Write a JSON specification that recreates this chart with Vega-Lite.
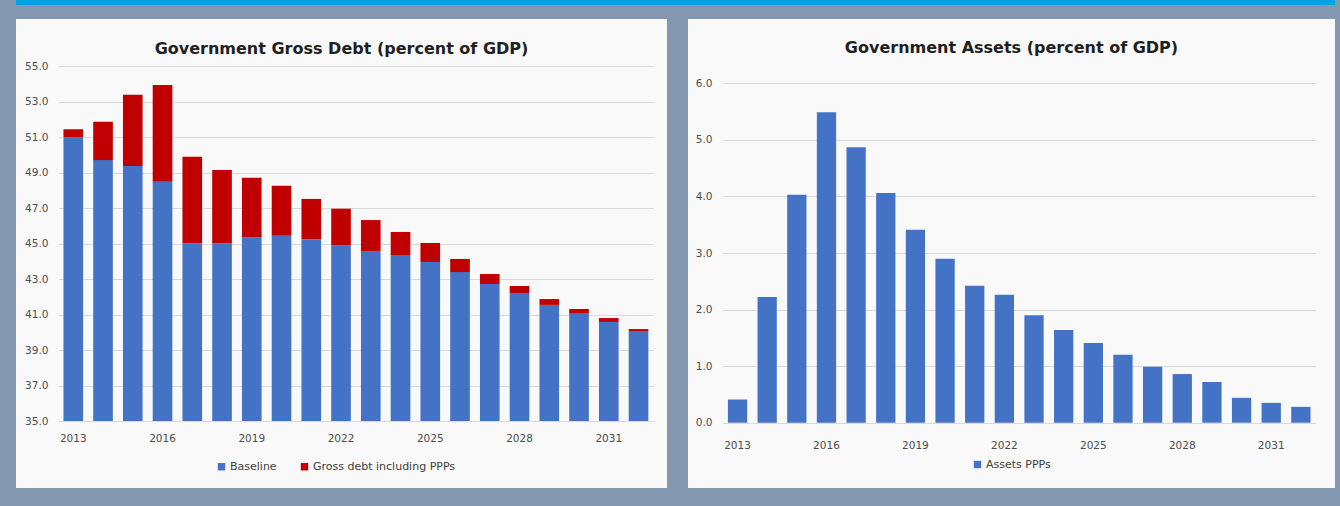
{
  "$schema": "https://vega.github.io/schema/vega-lite/v6.json",
  "background": "#8497b0",
  "padding": {"left": 16, "top": 0, "right": 5, "bottom": 18},
  "spacing": 14,
  "config": {
    "font": "DejaVu Sans",
    "view": {"stroke": null},
    "axis": {"labelFont": "DejaVu Sans", "labelFontSize": 10.5, "labelColor": "#4d4d4d", "domain": false, "ticks": false, "gridColor": "#d9d9d9", "gridWidth": 1},
    "legend": {"labelFont": "DejaVu Sans", "labelFontSize": 11, "labelColor": "#404040", "symbolType": "square", "symbolSize": 55, "symbolStrokeWidth": 0, "labelOffset": 3, "columnPadding": 22},
    "title": {"font": "DejaVu Sans", "fontSize": 16, "fontWeight": "bold", "color": "#1f1f1f"}
  },
  "vconcat": [
    {
      "width": 1319,
      "height": 5,
      "data": {"values": []},
      "mark": "point",
      "encoding": {},
      "view": {"fill": "#00a3e2", "stroke": null}
    },
    {
      "spacing": 21,
      "resolve": {"scale": {"x": "independent", "y": "independent", "color": "independent"}, "legend": {"color": "independent"}},
      "hconcat": [
        {
          "width": 651,
          "height": 469,
          "view": {"fill": "#f9f9f9", "stroke": null},
          "title": {"text": "Government Gross Debt (percent of GDP)", "offset": -51, "baseline": "alphabetic", "frame": "group", "anchor": "middle"},
          "data": {"values": [
            {"year": 2013, "baseline": 50.98, "total": 51.43},
            {"year": 2014, "baseline": 49.70, "total": 51.86},
            {"year": 2015, "baseline": 49.37, "total": 53.38},
            {"year": 2016, "baseline": 48.48, "total": 53.93},
            {"year": 2017, "baseline": 45.01, "total": 49.89},
            {"year": 2018, "baseline": 45.01, "total": 49.14},
            {"year": 2019, "baseline": 45.35, "total": 48.71},
            {"year": 2020, "baseline": 45.44, "total": 48.26},
            {"year": 2021, "baseline": 45.23, "total": 47.51},
            {"year": 2022, "baseline": 44.90, "total": 46.96},
            {"year": 2023, "baseline": 44.58, "total": 46.32},
            {"year": 2024, "baseline": 44.35, "total": 45.65},
            {"year": 2025, "baseline": 43.96, "total": 45.03},
            {"year": 2026, "baseline": 43.39, "total": 44.13},
            {"year": 2027, "baseline": 42.72, "total": 43.28},
            {"year": 2028, "baseline": 42.21, "total": 42.61},
            {"year": 2029, "baseline": 41.54, "total": 41.87},
            {"year": 2030, "baseline": 41.08, "total": 41.31},
            {"year": 2031, "baseline": 40.58, "total": 40.80},
            {"year": 2032, "baseline": 40.07, "total": 40.18}
          ]},
          "encoding": {
            "x": {
              "field": "year", "type": "ordinal",
              "scale": {"range": [42.4, 637.4], "paddingInner": 0.34, "paddingOuter": 0.17},
              "axis": {"title": null, "values": [2013, 2016, 2019, 2022, 2025, 2028, 2031], "labelAngle": 0, "labelPadding": -55, "grid": false}
            }
          },
          "layer": [
            {
              "mark": "bar",
              "encoding": {
                "y": {
                  "field": "baseline", "type": "quantitative",
                  "scale": {"domain": [35, 55], "range": [402, 47], "nice": false, "zero": false},
                  "axis": {"title": null, "values": [35, 37, 39, 41, 43, 45, 47, 49, 51, 53, 55], "format": ".1f", "grid": true, "labelPadding": -32}
                },
                "y2": {"datum": 35},
                "color": {
                  "datum": "Baseline",
                  "scale": {"domain": ["Baseline", "Gross debt including PPPs"], "range": ["#4472c4", "#c00000"]},
                  "legend": {"title": null, "orient": "none", "direction": "horizontal", "legendX": 200, "legendY": 442}
                }
              }
            },
            {
              "mark": "bar",
              "encoding": {
                "y": {"field": "total", "type": "quantitative"},
                "y2": {"field": "baseline"},
                "color": {"datum": "Gross debt including PPPs"}
              }
            }
          ]
        },
        {
          "width": 647,
          "height": 469,
          "view": {"fill": "#f9f9f9", "stroke": null},
          "title": {"text": "Government Assets (percent of GDP)", "offset": -50, "baseline": "alphabetic", "frame": "group", "anchor": "middle"},
          "data": {"values": [
            {"year": 2013, "assets": 0.41},
            {"year": 2014, "assets": 2.22},
            {"year": 2015, "assets": 4.03},
            {"year": 2016, "assets": 5.49},
            {"year": 2017, "assets": 4.87},
            {"year": 2018, "assets": 4.06},
            {"year": 2019, "assets": 3.41},
            {"year": 2020, "assets": 2.90},
            {"year": 2021, "assets": 2.42},
            {"year": 2022, "assets": 2.26},
            {"year": 2023, "assets": 1.90},
            {"year": 2024, "assets": 1.64},
            {"year": 2025, "assets": 1.41},
            {"year": 2026, "assets": 1.20},
            {"year": 2027, "assets": 0.99},
            {"year": 2028, "assets": 0.86},
            {"year": 2029, "assets": 0.72},
            {"year": 2030, "assets": 0.44},
            {"year": 2031, "assets": 0.35},
            {"year": 2032, "assets": 0.28}
          ]},
          "mark": "bar",
          "encoding": {
            "x": {
              "field": "year", "type": "ordinal",
              "scale": {"range": [34.7, 627.7], "paddingInner": 0.35, "paddingOuter": 0.175},
              "axis": {"title": null, "values": [2013, 2016, 2019, 2022, 2025, 2028, 2031], "labelAngle": 0, "labelPadding": -48, "grid": false}
            },
            "y": {
              "field": "assets", "type": "quantitative",
              "scale": {"domain": [0, 6], "range": [403.7, 64.3], "nice": false, "zero": false},
              "axis": {"title": null, "values": [0, 1, 2, 3, 4, 5, 6], "format": ".1f", "grid": true, "labelPadding": -24}
            },
            "y2": {"datum": 0},
            "color": {
              "datum": "Assets PPPs",
              "scale": {"domain": ["Assets PPPs"], "range": ["#4472c4"]},
              "legend": {"title": null, "orient": "none", "direction": "horizontal", "legendX": 284, "legendY": 440}
            }
          }
        }
      ]
    }
  ]
}
